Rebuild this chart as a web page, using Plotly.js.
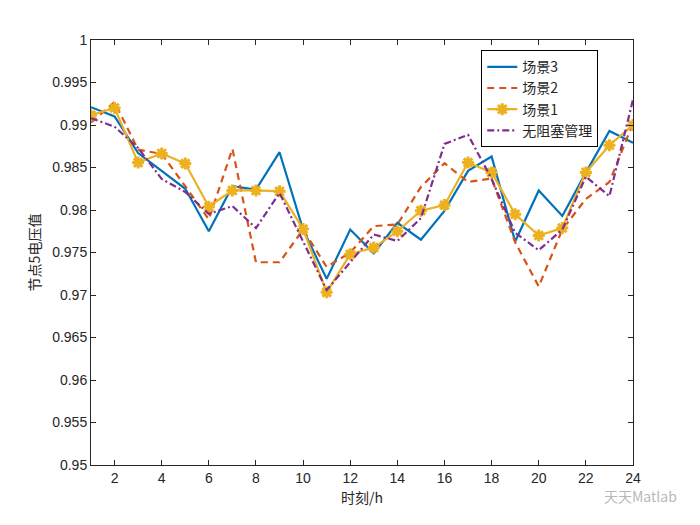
<!DOCTYPE html>
<html>
<head>
<meta charset="utf-8">
<script src="https://cdn.plot.ly/plotly-3.0.1.min.js"></script>
<style>html,body{margin:0;padding:0;background:#fff}#chart{width:700px;height:525px}</style>
</head>
<body>
<div id="chart"></div>
<script>
const hours = [1,2,3,4,5,6,7,8,9,10,11,12,13,14,15,16,17,18,19,20,21,22,23,24];
const scene3 = [0.9921,0.9910,0.9867,0.9846,0.9825,0.9775,0.9828,0.9824,0.9868,0.9777,0.9719,0.9777,
                0.9749,0.9785,0.9765,0.9799,0.9846,0.9863,0.9763,0.9823,0.9793,0.9844,0.9893,0.9879];
const scene2 = [0.9903,0.9927,0.9871,0.9866,0.9828,0.9789,0.9872,0.97385,0.97385,0.9777,0.9733,0.9750,
                0.9781,0.9783,0.9827,0.9855,0.9833,0.9837,0.9762,0.9710,0.9777,0.9813,0.9833,0.9902];
const scene1 = [0.99115,0.9920,0.98558,0.98665,0.98546,0.98038,0.9823,0.9823,0.9822,0.97777,0.97031,0.9748,
                0.97558,0.9775,0.97992,0.98058,0.98558,0.98442,0.9795,0.9770,0.97788,0.98442,0.98762,0.9900];
const noCongestion = [0.9908,0.9898,0.9873,0.98365,0.98212,0.97954,0.98046,0.97788,0.9820,0.97635,0.97058,0.97385,
                0.97712,0.97635,0.97904,0.98777,0.98885,0.98365,0.97731,0.97527,0.9777,0.98392,0.98162,0.9930];
const names = ['场景3','场景2','场景1','无阻塞管理'];
const xTicks = [2,4,6,8,10,12,14,16,18,20,22,24];
const yTicks = [0.95,0.955,0.96,0.965,0.97,0.975,0.98,0.985,0.99,0.995,1];
const yTickText = ['0.95','0.955','0.96','0.965','0.97','0.975','0.98','0.985','0.99','0.995','1'];

const font = 'Liberation Sans, Arial, sans-serif';
const cjk = 'Noto Sans CJK SC, sans-serif';

const traces = [
  {x: hours, y: scene3, name: names[0], mode: 'lines', line: {color: '#0072BD', width: 2.2}},
  {x: hours, y: scene2, name: names[1], mode: 'lines', line: {color: '#D95319', width: 2.2, dash: '7px,5px'}},
  {x: hours, y: scene1, name: names[2], mode: 'lines+markers', line: {color: '#EDB120', width: 2.2},
   marker: {symbol: 'asterisk-open', size: 10, color: '#EDB120', line: {color: '#EDB120', width: 3}}},
  {x: hours, y: noCongestion, name: names[3], mode: 'lines', line: {color: '#7E2F8E', width: 2.2, dash: '7px,3px,2px,3px'}}
];

const layout = {
  width: 700, height: 525,
  margin: {l: 91, r: 67, t: 40, b: 60},
  paper_bgcolor: '#fff', plot_bgcolor: '#fff',
  showlegend: true,
  legend: {x: 0.72, y: 0.976, xanchor: 'left', yanchor: 'top',
    bgcolor: '#fff', bordercolor: '#000', borderwidth: 1,
    font: {family: cjk, size: 14, color: '#262626'}, tracegroupgap: 0},
  xaxis: {range: [1, 24], tickvals: xTicks, ticktext: xTicks.map(String),
    ticks: 'inside', ticklen: 5, tickcolor: '#262626', mirror: 'ticks',
    showline: true, linecolor: '#262626', linewidth: 1, showgrid: false, zeroline: false,
    tickfont: {family: font, size: 14, color: '#262626'},
    title: {text: '时刻/h', font: {family: cjk, size: 14, color: '#262626'}, standoff: 8}},
  yaxis: {range: [0.95, 1], tickvals: yTicks, ticktext: yTickText,
    ticks: 'inside', ticklen: 5, tickcolor: '#262626', mirror: 'ticks',
    showline: true, linecolor: '#262626', linewidth: 1, showgrid: false, zeroline: false,
    tickfont: {family: font, size: 14, color: '#262626'},
    title: {text: '节点5电压值', font: {family: cjk, size: 14, color: '#262626'}, standoff: 8}},
  annotations: [
    {text: '天天Matlab', xref: 'paper', yref: 'paper', x: 1.085, y: -0.045, xanchor: 'right', yanchor: 'top',
     showarrow: false, font: {family: cjk, size: 14, color: '#b8b8b8'}}
  ]
};

Plotly.newPlot('chart', traces, layout, {displayModeBar: false, staticPlot: true});
</script>
</body>
</html>
